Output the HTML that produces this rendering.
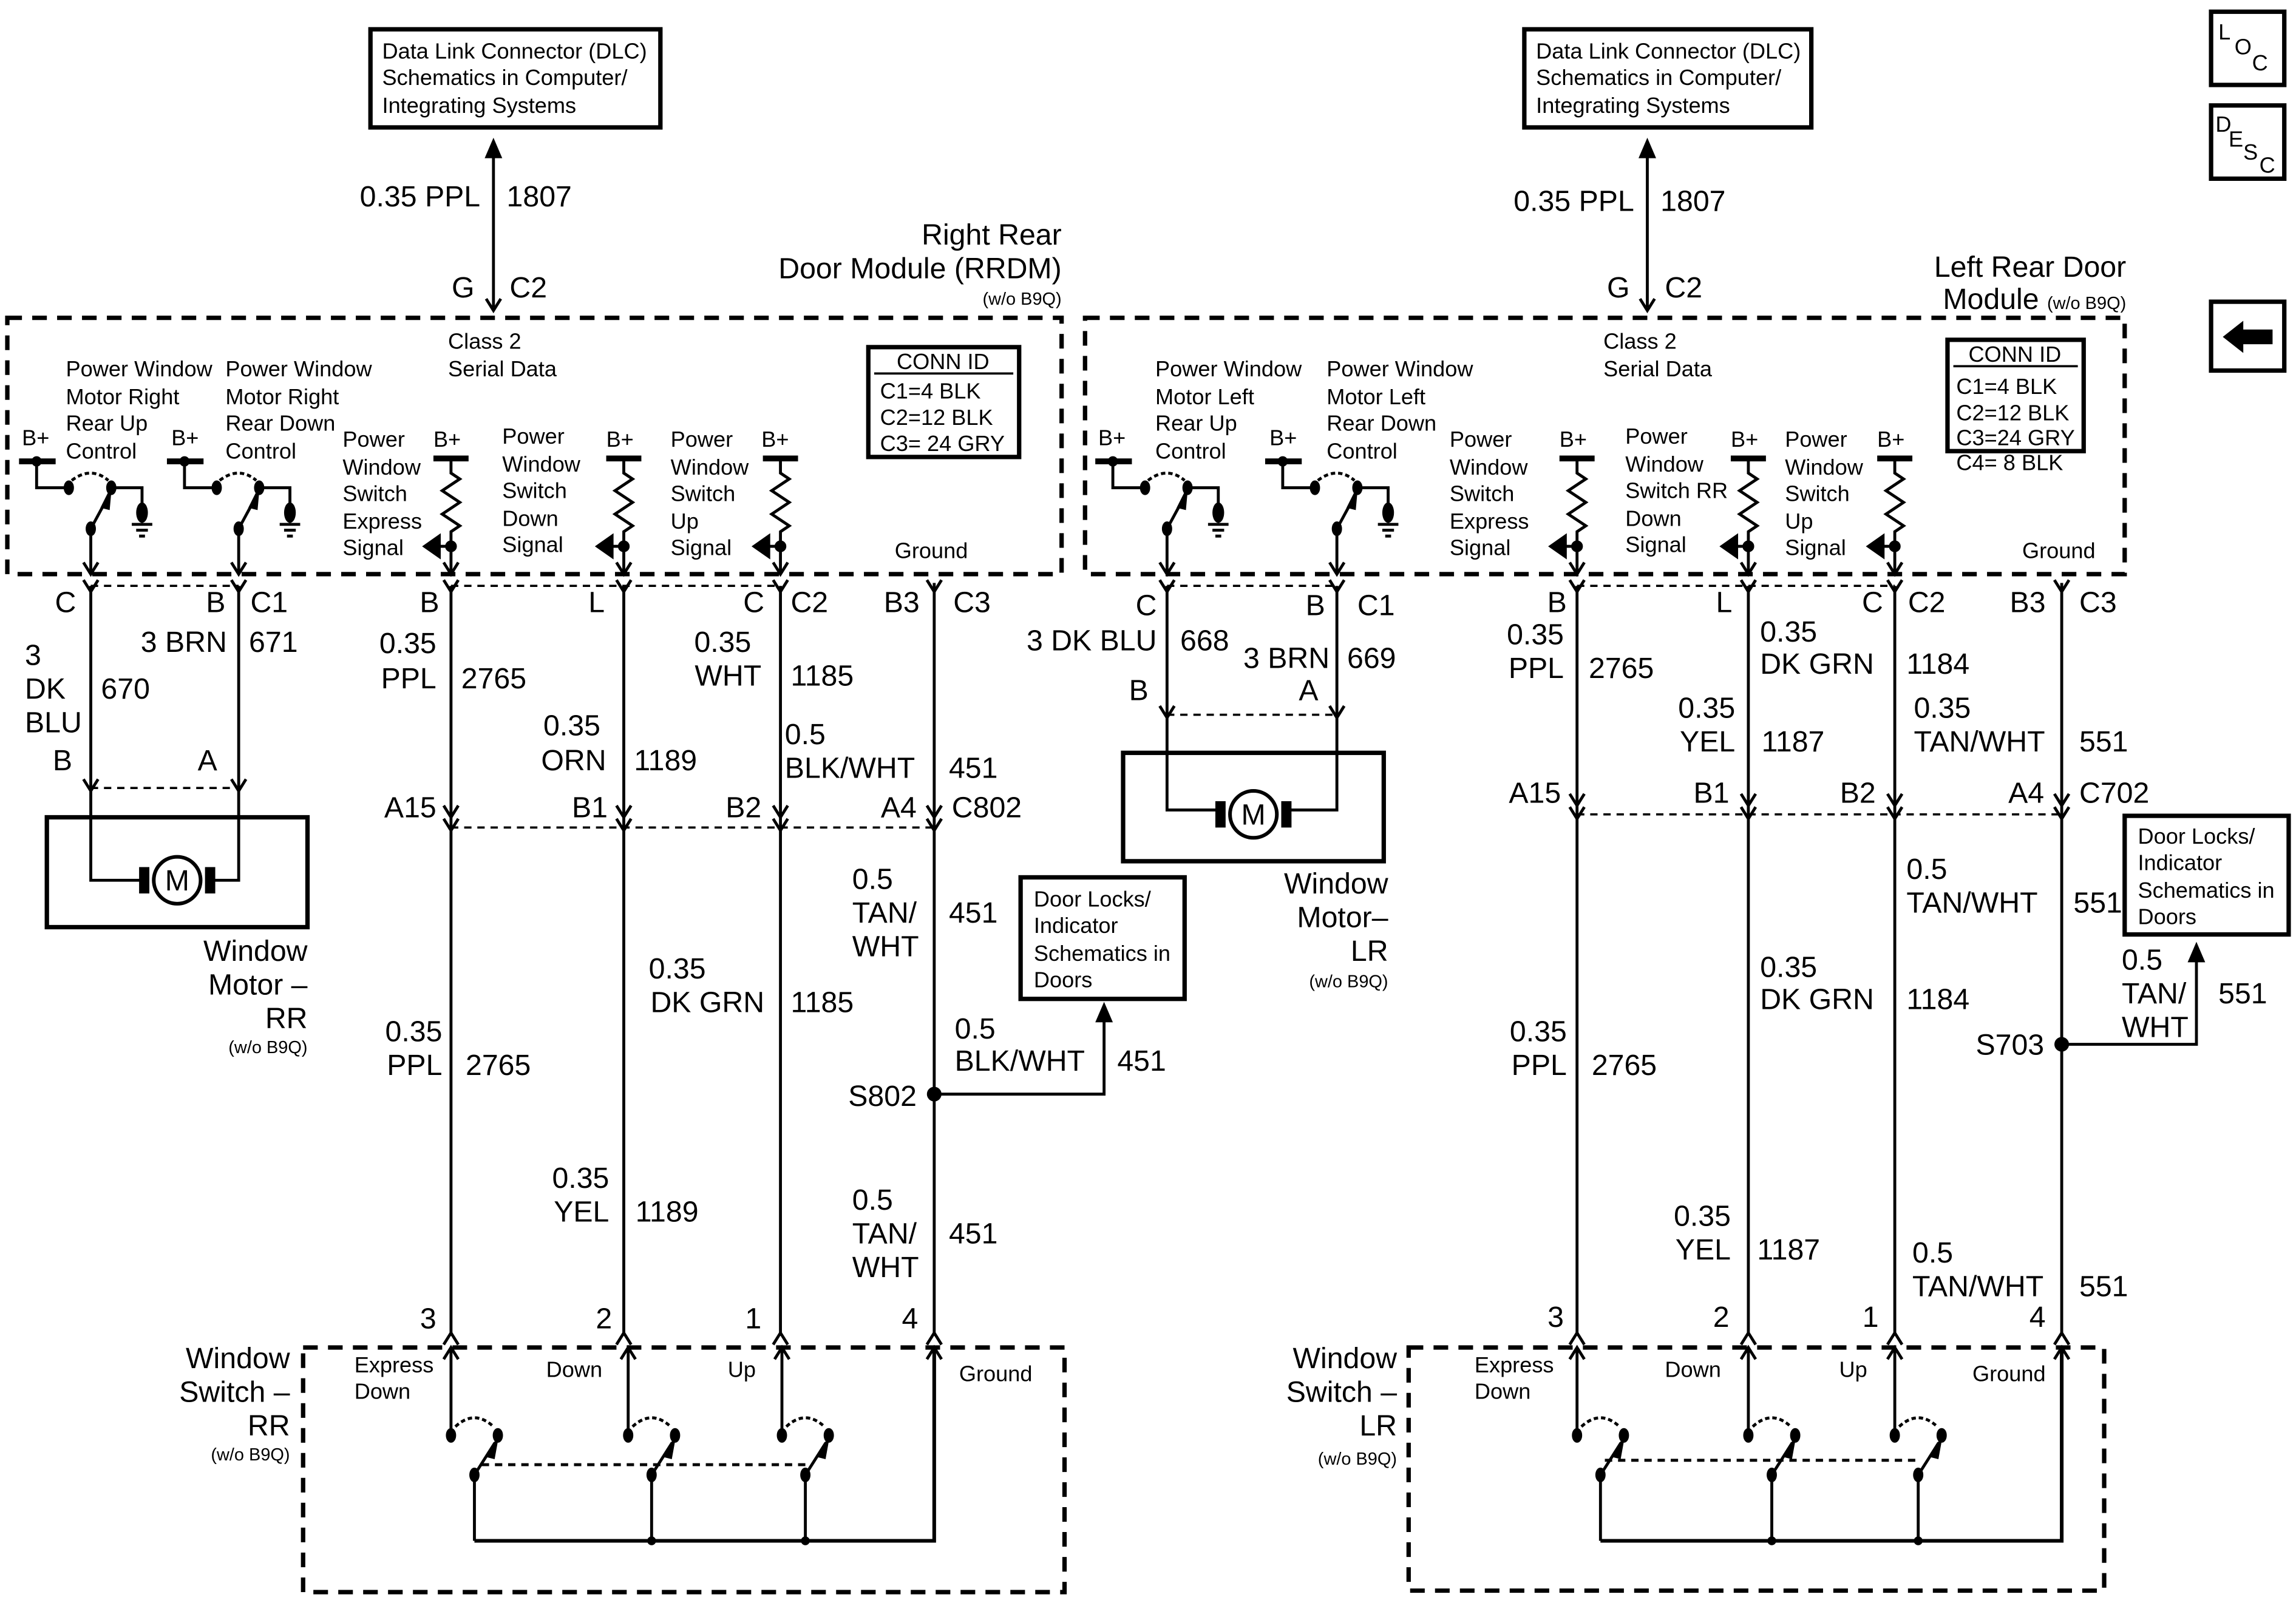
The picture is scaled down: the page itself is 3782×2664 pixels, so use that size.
<!DOCTYPE html>
<html><head><meta charset="utf-8"><style>
html,body{margin:0;padding:0;background:#fff}
svg{display:block}
text{font-family:"Liberation Sans",Arial,sans-serif;fill:#000}
.b{font-size:20px}.s{font-size:15px}.t{font-size:12px}
</style></head><body>
<svg width="3782" height="2664" viewBox="0 0 1568 1104" preserveAspectRatio="none" xmlns="http://www.w3.org/2000/svg">
<defs>
<path id="vd" d="M-5,-8 L0,0 L5,-8" fill="none" stroke="#000" stroke-width="2"/>
<path id="vu" d="M-5,8 L0,0 L5,8" fill="none" stroke="#000" stroke-width="2"/>
<g id="relay" fill="none" stroke="#000" stroke-width="2">
 <path d="M-49,315 H-24" stroke-width="4"/>
 <circle cx="-37" cy="315" r="2.5" fill="#000"/>
 <path d="M-37,315 V333 H-15"/>
 <ellipse cx="-15" cy="333" rx="2.5" ry="4" fill="#000"/>
 <ellipse cx="14" cy="333" rx="2.5" ry="4" fill="#000"/>
 <path d="M-13,328 Q0,318 12,328" stroke-dasharray="3 2"/>
 <path d="M14,333 H35 V345"/>
 <ellipse cx="35" cy="350" rx="4" ry="7" fill="#000" stroke="none"/>
 <path d="M28,358 H42 M31,362 H39 M33,366 H37"/>
 <path d="M0,361 L13,337"/>
 <path d="M13,336 L8,346 L12,347 Z" fill="#000"/>
 <ellipse cx="0" cy="361" rx="2.5" ry="4" fill="#000"/>
 <path d="M0,361 V392"/>
 <use href="#vd" y="392"/>
</g>
<g id="res" fill="none" stroke="#000" stroke-width="2">
 <path d="M-12,313 H12" stroke-width="4"/>
 <path d="M0,313 V323 l6,4 l-12,8 l12,8 l-12,8 l12,8 l-6,4 V392"/>
 <circle cx="0" cy="373" r="3" fill="#000"/>
 <path d="M0,373 H-8"/>
 <path d="M-18,373 L-8,366 L-8,380 Z" fill="#000"/>
 <use href="#vd" y="392"/>
</g>
<g id="sw" fill="none" stroke="#000" stroke-width="2">
 <ellipse cx="0" cy="980" rx="2.5" ry="4" fill="#000"/>
 <ellipse cx="32" cy="980" rx="2.5" ry="4" fill="#000"/>
 <path d="M3,974 Q16,962 29,974" stroke-dasharray="3 2"/>
 <path d="M0,920 V980"/>
 <use href="#vu" y="920"/>
 <path d="M16,1007 L30,985"/>
 <path d="M31,984 L25,994 L29,995 Z" fill="#000"/>
 <ellipse cx="16" cy="1007" rx="2.5" ry="4" fill="#000"/>
 <path d="M16,1007 V1052"/>
</g>
</defs>

<!-- ================= LEFT (RR) ================= -->
<g fill="none" stroke="#000">
 <rect x="253" y="20" width="198" height="67" stroke-width="3"/>
 <path d="M337,210 V100" stroke-width="2"/>
 <rect x="5" y="217" width="720" height="175" stroke-width="3" stroke-dasharray="10 7"/>
 <rect x="593" y="237" width="103" height="75" stroke-width="3"/>
 <path d="M597,255 H692" stroke-width="1.5"/>
 <!-- wires -->
 <path d="M62,400 V540 M163,400 V540 M308,400 V912 M426,400 V912 M533,400 V912 M638,398 V912" stroke-width="2"/>
 <path d="M62,400 H163 M308,400 H533 M62,538 H163 M308,565 H638" stroke-width="1.5" stroke-dasharray="5 4"/>
 <rect x="32" y="558" width="178" height="75" stroke-width="3"/>
 <path d="M62,540 V601 H100 M163,540 V601 H142" stroke-width="2"/>
 <circle cx="121" cy="601" r="16" stroke-width="2.5"/>
 <path d="M638,747 H754 V690" stroke-width="2"/>
 <rect x="697" y="599" width="112" height="83" stroke-width="3"/>
 <rect x="207" y="920" width="520" height="167" stroke-width="3" stroke-dasharray="10 7"/>
 <path d="M324,1052 H638 V920" stroke-width="2.5"/>
 <path d="M329,1000 H554" stroke-width="2" stroke-dasharray="5 4"/>
</g>
<rect x="95" y="592" width="7" height="18"/><rect x="140" y="592" width="7" height="18"/>
<path d="M337,94 L331,108 L343,108 Z"/>
<path d="M754,684 L748,698 L760,698 Z"/>
<circle cx="638" cy="747" r="5"/>
<circle cx="445" cy="1052" r="3"/><circle cx="550" cy="1052" r="3"/>
<use href="#vd" x="337" y="212"/>
<use href="#relay" x="62"/><use href="#relay" x="163"/>
<use href="#res" x="308"/><use href="#res" x="426"/><use href="#res" x="533"/>
<g>
<use href="#vd" x="62" y="404"/><use href="#vd" x="163" y="404"/><use href="#vd" x="308" y="404"/><use href="#vd" x="426" y="404"/><use href="#vd" x="533" y="404"/><use href="#vd" x="638" y="404"/>
<use href="#vd" x="62" y="540"/><use href="#vd" x="163" y="540"/>
<use href="#vd" x="308" y="567"/><use href="#vd" x="426" y="567"/><use href="#vd" x="533" y="567"/><use href="#vd" x="638" y="567"/>
<use href="#vd" x="308" y="558"/><use href="#vd" x="426" y="558"/><use href="#vd" x="533" y="558"/><use href="#vd" x="638" y="558"/>
<use href="#vu" x="308" y="910"/><use href="#vu" x="426" y="910"/><use href="#vu" x="533" y="910"/><use href="#vu" x="638" y="910"/>
<use href="#vu" x="638" y="920"/>
</g>
<use href="#sw" x="308"/><use href="#sw" x="426" transform="translate(3,0)"/><use href="#sw" x="533" transform="translate(1,0)"/>

<text class="s" x="261" y="40">Data Link Connector (DLC)</text>
<text class="s" x="261" y="58">Schematics in Computer/</text>
<text class="s" x="261" y="77">Integrating Systems</text>
<text class="b" x="328" y="141" text-anchor="end">0.35 PPL</text>
<text class="b" x="346" y="141">1807</text>
<text class="b" x="324" y="203" text-anchor="end">G</text>
<text class="b" x="348" y="203">C2</text>
<text class="b" x="725" y="167" text-anchor="end">Right Rear</text>
<text class="b" x="725" y="190" text-anchor="end">Door Module (RRDM)</text>
<text class="t" x="725" y="208" text-anchor="end">(w/o B9Q)</text>
<text class="s" x="306" y="238">Class 2</text>
<text class="s" x="306" y="257">Serial Data</text>
<text class="s" x="644" y="252" text-anchor="middle">CONN ID</text>
<text class="s" x="601" y="272">C1=4 BLK</text>
<text class="s" x="601" y="290">C2=12 BLK</text>
<text class="s" x="601" y="308">C3= 24 GRY</text>
<text class="s" x="45" y="257">Power Window</text><text class="s" x="45" y="276">Motor Right</text><text class="s" x="45" y="294">Rear Up</text><text class="s" x="45" y="313">Control</text>
<text class="s" x="154" y="257">Power Window</text><text class="s" x="154" y="276">Motor Right</text><text class="s" x="154" y="294">Rear Down</text><text class="s" x="154" y="313">Control</text>
<text class="s" x="15" y="304">B+</text><text class="s" x="117" y="304">B+</text>
<text class="s" x="296" y="305">B+</text><text class="s" x="414" y="305">B+</text><text class="s" x="520" y="305">B+</text>
<text class="s" x="234" y="305">Power</text><text class="s" x="234" y="324">Window</text><text class="s" x="234" y="342">Switch</text><text class="s" x="234" y="361">Express</text><text class="s" x="234" y="379">Signal</text>
<text class="s" x="343" y="303">Power</text><text class="s" x="343" y="322">Window</text><text class="s" x="343" y="340">Switch</text><text class="s" x="343" y="359">Down</text><text class="s" x="343" y="377">Signal</text>
<text class="s" x="458" y="305">Power</text><text class="s" x="458" y="324">Window</text><text class="s" x="458" y="342">Switch</text><text class="s" x="458" y="361">Up</text><text class="s" x="458" y="379">Signal</text>
<text class="s" x="611" y="381">Ground</text>
<text class="b" x="52" y="418" text-anchor="end">C</text>
<text class="b" x="154" y="418" text-anchor="end">B</text><text class="b" x="171" y="418">C1</text>
<text class="b" x="300" y="418" text-anchor="end">B</text>
<text class="b" x="413" y="418" text-anchor="end">L</text>
<text class="b" x="522" y="418" text-anchor="end">C</text><text class="b" x="540" y="418">C2</text>
<text class="b" x="628" y="418" text-anchor="end">B3</text><text class="b" x="651" y="418">C3</text>
<text class="b" x="17" y="454">3</text><text class="b" x="17" y="477">DK</text><text class="b" x="17" y="500">BLU</text>
<text class="b" x="69" y="477">670</text>
<text class="b" x="155" y="445" text-anchor="end">3 BRN</text><text class="b" x="170" y="445">671</text>
<text class="b" x="36" y="526">B</text><text class="b" x="135" y="526">A</text>
<text class="b" x="121" y="608" text-anchor="middle">M</text>
<text class="b" x="210" y="656" text-anchor="end">Window</text>
<text class="b" x="210" y="679" text-anchor="end">Motor –</text>
<text class="b" x="210" y="702" text-anchor="end">RR</text>
<text class="t" x="210" y="719" text-anchor="end">(w/o B9Q)</text>
<text class="b" x="298" y="446" text-anchor="end">0.35</text><text class="b" x="298" y="470" text-anchor="end">PPL</text><text class="b" x="315" y="470">2765</text>
<text class="b" x="410" y="502" text-anchor="end">0.35</text><text class="b" x="414" y="526" text-anchor="end">ORN</text><text class="b" x="433" y="526">1189</text>
<text class="b" x="513" y="445" text-anchor="end">0.35</text><text class="b" x="520" y="468" text-anchor="end">WHT</text><text class="b" x="540" y="468">1185</text>
<text class="b" x="536" y="508">0.5</text><text class="b" x="536" y="531">BLK/WHT</text><text class="b" x="648" y="531">451</text>
<text class="b" x="298" y="558" text-anchor="end">A15</text>
<text class="b" x="415" y="558" text-anchor="end">B1</text>
<text class="b" x="520" y="558" text-anchor="end">B2</text>
<text class="b" x="626" y="558" text-anchor="end">A4</text><text class="b" x="650" y="558">C802</text>
<text class="b" x="302" y="711" text-anchor="end">0.35</text><text class="b" x="302" y="734" text-anchor="end">PPL</text><text class="b" x="318" y="734">2765</text>
<text class="b" x="416" y="811" text-anchor="end">0.35</text><text class="b" x="416" y="834" text-anchor="end">YEL</text><text class="b" x="434" y="834">1189</text>
<text class="b" x="482" y="668" text-anchor="end">0.35</text><text class="b" x="522" y="691" text-anchor="end">DK GRN</text><text class="b" x="540" y="691">1185</text>
<text class="b" x="582" y="607">0.5</text><text class="b" x="582" y="630">TAN/</text><text class="b" x="582" y="653">WHT</text><text class="b" x="648" y="630">451</text>
<text class="b" x="626" y="755" text-anchor="end">S802</text>
<text class="s" x="706" y="619">Door Locks/</text><text class="s" x="706" y="637">Indicator</text><text class="s" x="706" y="656">Schematics in</text><text class="s" x="706" y="674">Doors</text>
<text class="b" x="652" y="709">0.5</text><text class="b" x="652" y="731">BLK/WHT</text><text class="b" x="763" y="731">451</text>
<text class="b" x="582" y="826">0.5</text><text class="b" x="582" y="849">TAN/</text><text class="b" x="582" y="872">WHT</text><text class="b" x="648" y="849">451</text>
<text class="b" x="298" y="907" text-anchor="end">3</text>
<text class="b" x="418" y="907" text-anchor="end">2</text>
<text class="b" x="520" y="907" text-anchor="end">1</text>
<text class="b" x="627" y="907" text-anchor="end">4</text>
<text class="b" x="198" y="934" text-anchor="end">Window</text>
<text class="b" x="198" y="957" text-anchor="end">Switch –</text>
<text class="b" x="198" y="980" text-anchor="end">RR</text>
<text class="t" x="198" y="997" text-anchor="end">(w/o B9Q)</text>
<text class="s" x="242" y="937">Express</text><text class="s" x="242" y="955">Down</text>
<text class="s" x="373" y="940">Down</text>
<text class="s" x="497" y="940">Up</text>
<text class="s" x="655" y="943">Ground</text>

<!-- ================= RIGHT (LR) ================= -->
<g fill="none" stroke="#000">
 <rect x="1041" y="20" width="196" height="67" stroke-width="3"/>
 <path d="M1125,210 V100" stroke-width="2"/>
 <rect x="741" y="217" width="710" height="175" stroke-width="3" stroke-dasharray="10 7"/>
 <rect x="1330" y="232" width="93" height="76" stroke-width="3"/>
 <path d="M1334,250 H1419" stroke-width="1.5"/>
 <path d="M797,400 V488 M913,400 V488 M1077,400 V912 M1194,400 V912 M1294,400 V912 M1408,398 V912" stroke-width="2"/>
 <path d="M797,400 H913 M1077,400 H1294 M797,488 H913 M1077,556 H1408" stroke-width="1.5" stroke-dasharray="5 4"/>
 <rect x="767" y="514" width="178" height="74" stroke-width="3"/>
 <path d="M797,488 V553 H835 M913,488 V553 H877" stroke-width="2"/>
 <circle cx="856" cy="556" r="16" stroke-width="2.5"/>
 <path d="M1408,713 H1500 V650" stroke-width="2"/>
 <rect x="1451" y="557" width="112" height="81" stroke-width="3"/>
 <rect x="962" y="920" width="475" height="166" stroke-width="3" stroke-dasharray="10 7"/>
 <path d="M1093,1052 H1408 V920" stroke-width="2.5"/>
 <path d="M1096,997 H1312" stroke-width="2" stroke-dasharray="5 4"/>
</g>
<rect x="830" y="547" width="7" height="18"/><rect x="875" y="547" width="7" height="18"/>
<path d="M1125,94 L1119,108 L1131,108 Z"/>
<path d="M1500,643 L1494,657 L1506,657 Z"/>
<circle cx="1408" cy="713" r="5"/>
<circle cx="1210" cy="1052" r="3"/><circle cx="1310" cy="1052" r="3"/>
<use href="#vd" x="1125" y="212"/>
<use href="#relay" x="797"/><use href="#relay" x="913"/>
<use href="#res" x="1077"/><use href="#res" x="1194"/><use href="#res" x="1294"/>
<g>
<use href="#vd" x="797" y="404"/><use href="#vd" x="913" y="404"/><use href="#vd" x="1077" y="404"/><use href="#vd" x="1194" y="404"/><use href="#vd" x="1294" y="404"/><use href="#vd" x="1408" y="404"/>
<use href="#vd" x="797" y="490"/><use href="#vd" x="913" y="490"/>
<use href="#vd" x="1077" y="550"/><use href="#vd" x="1194" y="550"/><use href="#vd" x="1294" y="550"/><use href="#vd" x="1408" y="550"/>
<use href="#vd" x="1077" y="559"/><use href="#vd" x="1194" y="559"/><use href="#vd" x="1294" y="559"/><use href="#vd" x="1408" y="559"/>
<use href="#vu" x="1077" y="910"/><use href="#vu" x="1194" y="910"/><use href="#vu" x="1294" y="910"/><use href="#vu" x="1408" y="910"/>
<use href="#vu" x="1408" y="920"/>
</g>
<use href="#sw" x="1077"/><use href="#sw" x="1194"/><use href="#sw" x="1294"/>

<text class="s" x="1049" y="40">Data Link Connector (DLC)</text>
<text class="s" x="1049" y="58">Schematics in Computer/</text>
<text class="s" x="1049" y="77">Integrating Systems</text>
<text class="b" x="1116" y="144" text-anchor="end">0.35 PPL</text>
<text class="b" x="1134" y="144">1807</text>
<text class="b" x="1113" y="203" text-anchor="end">G</text>
<text class="b" x="1137" y="203">C2</text>
<text class="b" x="1452" y="189" text-anchor="end">Left Rear Door</text>
<text class="b" x="1452" y="211" text-anchor="end">Module <tspan class="t">(w/o B9Q)</tspan></text>
<text class="s" x="1095" y="238">Class 2</text>
<text class="s" x="1095" y="257">Serial Data</text>
<text class="s" x="1376" y="247" text-anchor="middle">CONN ID</text>
<text class="s" x="1336" y="269">C1=4 BLK</text>
<text class="s" x="1336" y="287">C2=12 BLK</text>
<text class="s" x="1336" y="304">C3=24 GRY</text>
<text class="s" x="1336" y="321">C4= 8 BLK</text>
<text class="s" x="789" y="257">Power Window</text><text class="s" x="789" y="276">Motor Left</text><text class="s" x="789" y="294">Rear Up</text><text class="s" x="789" y="313">Control</text>
<text class="s" x="906" y="257">Power Window</text><text class="s" x="906" y="276">Motor Left</text><text class="s" x="906" y="294">Rear Down</text><text class="s" x="906" y="313">Control</text>
<text class="s" x="750" y="304">B+</text><text class="s" x="867" y="304">B+</text>
<text class="s" x="1065" y="305">B+</text><text class="s" x="1182" y="305">B+</text><text class="s" x="1282" y="305">B+</text>
<text class="s" x="990" y="305">Power</text><text class="s" x="990" y="324">Window</text><text class="s" x="990" y="342">Switch</text><text class="s" x="990" y="361">Express</text><text class="s" x="990" y="379">Signal</text>
<text class="s" x="1110" y="303">Power</text><text class="s" x="1110" y="322">Window</text><text class="s" x="1110" y="340">Switch RR</text><text class="s" x="1110" y="359">Down</text><text class="s" x="1110" y="377">Signal</text>
<text class="s" x="1219" y="305">Power</text><text class="s" x="1219" y="324">Window</text><text class="s" x="1219" y="342">Switch</text><text class="s" x="1219" y="361">Up</text><text class="s" x="1219" y="379">Signal</text>
<text class="s" x="1381" y="381">Ground</text>
<text class="b" x="790" y="420" text-anchor="end">C</text>
<text class="b" x="905" y="420" text-anchor="end">B</text><text class="b" x="927" y="420">C1</text>
<text class="b" x="1070" y="418" text-anchor="end">B</text>
<text class="b" x="1183" y="418" text-anchor="end">L</text>
<text class="b" x="1286" y="418" text-anchor="end">C</text><text class="b" x="1303" y="418">C2</text>
<text class="b" x="1397" y="418" text-anchor="end">B3</text><text class="b" x="1420" y="418">C3</text>
<text class="b" x="790" y="444" text-anchor="end">3 DK BLU</text><text class="b" x="806" y="444">668</text>
<text class="b" x="908" y="456" text-anchor="end">3 BRN</text><text class="b" x="920" y="456">669</text>
<text class="b" x="771" y="478">B</text><text class="b" x="887" y="478">A</text>
<text class="b" x="856" y="563" text-anchor="middle">M</text>
<text class="b" x="948" y="610" text-anchor="end">Window</text>
<text class="b" x="948" y="633" text-anchor="end">Motor–</text>
<text class="b" x="948" y="656" text-anchor="end">LR</text>
<text class="t" x="948" y="674" text-anchor="end">(w/o B9Q)</text>
<text class="b" x="1068" y="440" text-anchor="end">0.35</text><text class="b" x="1068" y="463" text-anchor="end">PPL</text><text class="b" x="1085" y="463">2765</text>
<text class="b" x="1202" y="438">0.35</text><text class="b" x="1202" y="460">DK GRN</text><text class="b" x="1302" y="460">1184</text>
<text class="b" x="1185" y="490" text-anchor="end">0.35</text><text class="b" x="1185" y="513" text-anchor="end">YEL</text><text class="b" x="1203" y="513">1187</text>
<text class="b" x="1307" y="490">0.35</text><text class="b" x="1307" y="513">TAN/WHT</text><text class="b" x="1420" y="513">551</text>
<text class="b" x="1066" y="548" text-anchor="end">A15</text>
<text class="b" x="1181" y="548" text-anchor="end">B1</text>
<text class="b" x="1281" y="548" text-anchor="end">B2</text>
<text class="b" x="1396" y="548" text-anchor="end">A4</text><text class="b" x="1420" y="548">C702</text>
<text class="b" x="1070" y="711" text-anchor="end">0.35</text><text class="b" x="1070" y="734" text-anchor="end">PPL</text><text class="b" x="1087" y="734">2765</text>
<text class="b" x="1182" y="837" text-anchor="end">0.35</text><text class="b" x="1182" y="860" text-anchor="end">YEL</text><text class="b" x="1200" y="860">1187</text>
<text class="b" x="1202" y="667">0.35</text><text class="b" x="1202" y="689">DK GRN</text><text class="b" x="1302" y="689">1184</text>
<text class="b" x="1302" y="600">0.5</text><text class="b" x="1302" y="623">TAN/WHT</text><text class="b" x="1416" y="623">551</text>
<text class="b" x="1396" y="720" text-anchor="end">S703</text>
<text class="s" x="1460" y="576">Door Locks/</text><text class="s" x="1460" y="594">Indicator</text><text class="s" x="1460" y="613">Schematics in</text><text class="s" x="1460" y="631">Doors</text>
<text class="b" x="1449" y="662">0.5</text><text class="b" x="1449" y="685">TAN/</text><text class="b" x="1449" y="708">WHT</text><text class="b" x="1515" y="685">551</text>
<text class="b" x="1306" y="862">0.5</text><text class="b" x="1306" y="885">TAN/WHT</text><text class="b" x="1420" y="885">551</text>
<text class="b" x="1068" y="906" text-anchor="end">3</text>
<text class="b" x="1181" y="906" text-anchor="end">2</text>
<text class="b" x="1283" y="906" text-anchor="end">1</text>
<text class="b" x="1397" y="906" text-anchor="end">4</text>
<text class="b" x="954" y="934" text-anchor="end">Window</text>
<text class="b" x="954" y="957" text-anchor="end">Switch –</text>
<text class="b" x="954" y="980" text-anchor="end">LR</text>
<text class="t" x="954" y="1000" text-anchor="end">(w/o B9Q)</text>
<text class="s" x="1007" y="937">Express</text><text class="s" x="1007" y="955">Down</text>
<text class="s" x="1137" y="940">Down</text>
<text class="s" x="1256" y="940">Up</text>
<text class="s" x="1347" y="943">Ground</text>

<!-- icons -->
<g fill="none" stroke="#000" stroke-width="3">
 <rect x="1510" y="8" width="50" height="50"/>
 <rect x="1510" y="72" width="50" height="50"/>
 <rect x="1510" y="206" width="50" height="47"/>
</g>
<text class="s" x="1515" y="27">L</text><text class="s" x="1526" y="37">O</text><text class="s" x="1538" y="48">C</text>
<text class="s" x="1513" y="90">D</text><text class="s" x="1522" y="100">E</text><text class="s" x="1532" y="109">S</text><text class="s" x="1543" y="118">C</text>
<path d="M1518,230 L1532,219 V225 H1552 V235 H1532 V241 Z"/>
</svg>
</body></html>
